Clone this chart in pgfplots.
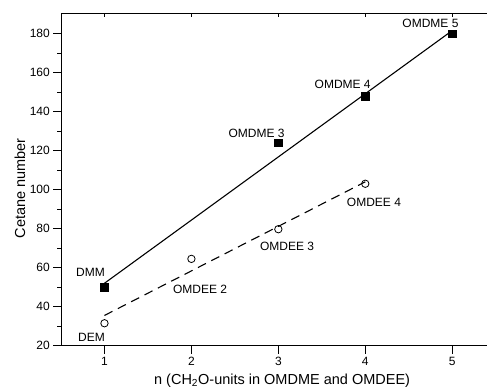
\documentclass[border=0pt]{standalone}
\usepackage{pgfplots}
\pgfplotsset{compat=1.18}
\usepackage{fontspec}
\setmainfont{Liberation Sans}
\begin{document}
\begin{tikzpicture}
\pgfplotsset{every axis/.append style={
  scale only axis, width=426bp, height=331.7bp,
  xmin=0.5, xmax=5.4, ymin=20, ymax=190,
  /pgf/number format/assume math mode=true,
}}
\begin{axis}[name=ax,
  axis x line*=box, axis y line*=left,
  xtick pos=bottom, ytick pos=left,
  tick align=outside,
  xtick={1,2,3,4,5},
  ytick={20,40,...,180},
  minor y tick num=1,
  major tick length=8bp, minor tick length=4bp,
  every tick/.style={black, line width=0.8bp},
  axis line style={line width=1bp, -},
  xticklabel style={font=\fontsize{12bp}{14bp}\selectfont, inner sep=0pt, anchor=north, yshift=-3bp},
  yticklabel style={font=\fontsize{12bp}{14bp}\selectfont, inner sep=0pt, anchor=east, xshift=-3bp},
  xlabel={n (CH\textsubscript{2}O-units in OMDME and OMDEE)},
  ylabel={Cetane number},
  xlabel style={font=\fontsize{14.5bp}{16bp}\selectfont, at={(axis description cs:0.519,-0.118)}, anchor=base, inner sep=0pt},
  ylabel style={font=\fontsize{14.5bp}{16bp}\selectfont, at={(axis description cs:-0.0845,0.475)}, anchor=base, inner sep=0pt},
  clip=false,
]
\addplot[line width=1.1bp, black] coordinates {(1,52) (5,181.5)};
\addplot[line width=1.1bp, black, dash pattern=on 9bp off 6bp] coordinates {(1,35.5) (4,104)};
\addplot[only marks, mark=square*, mark size=3.8bp, black] coordinates {(1,50) (3,124) (4,148) (5,180)};
\addplot[only marks, mark=o, mark size=3.7bp, black, line width=0.8bp] coordinates {(1,31.5) (2,64.5) (3,79.7) (4,103)};
\begin{scope}[every node/.style={font=\fontsize{12bp}{14bp}\selectfont, inner sep=0pt}]
\node at (axis cs:0.84,57.6) {DMM};
\node at (axis cs:2.75,128.6) {OMDME 3};
\node at (axis cs:3.74,153.8) {OMDME 4};
\node at (axis cs:4.75,185) {OMDME 5};
\node at (axis cs:0.85,24.1) {DEM};
\node at (axis cs:2.10,48.8) {OMDEE 2};
\node at (axis cs:3.10,71) {OMDEE 3};
\node at (axis cs:4.10,93.7) {OMDEE 4};
\end{scope}
\end{axis}
\begin{axis}[
  axis x line*=top, axis y line=none,
  xtick={1,2,3,4,5}, xticklabels={},
  xtick align=inside, major tick length=3bp,
  every tick/.style={black, line width=0.6bp},
  axis line style={line width=1bp, -},
]
\end{axis}
\pgfresetboundingbox
\useasboundingbox (ax.south west) ++(-61bp,-43.3bp) rectangle ++(487bp,389bp);
\end{tikzpicture}
\end{document}
